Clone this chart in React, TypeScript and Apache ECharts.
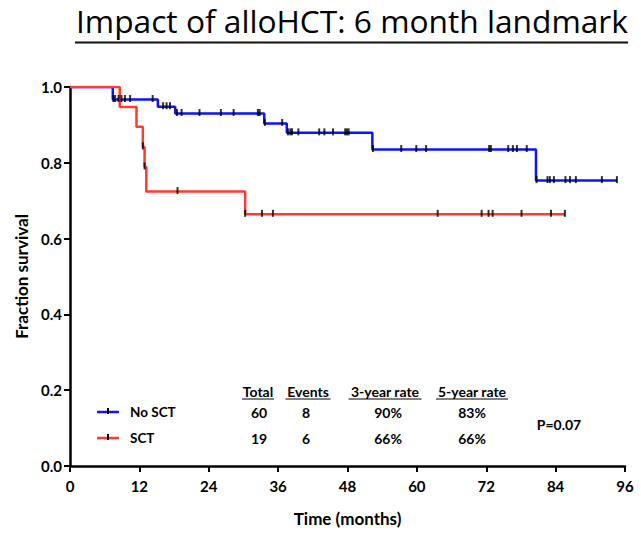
import React, { useEffect, useRef } from "react";
import * as echarts from "echarts";

const titleText = "Impact of alloHCT: 6 month landmark";
const xTicks = [0, 12, 24, 36, 48, 60, 72, 84, 96];
const yTicks = [0, 0.2, 0.4, 0.6, 0.8, 1.0];

// Kaplan-Meier steps: [time in months, survival after that time]
const noSctSteps: [number, number][] = [
  [0, 1.0], [7.4, 0.967], [15.2, 0.948], [18.2, 0.93], [33.6, 0.904],
  [37.5, 0.879], [52.3, 0.835], [80.6, 0.753], [94.6, 0.753],
];
const sctSteps: [number, number][] = [
  [0, 1.0], [8.6, 0.947], [11.5, 0.895], [12.6, 0.842], [12.9, 0.789],
  [13.2, 0.724], [30.3, 0.664], [85.6, 0.664],
];
const noSctCensored = [
  7.5, 7.8, 8.4, 8.9, 9.5, 10.4, 14.3, 16.1, 16.7, 17.3, 18.5, 19.3, 22.4, 26.1,
  28.3, 32.5, 32.8, 33.7, 36.7, 37.7, 38.1, 38.4, 39.5, 43.1, 44.0, 45.5, 47.6,
  47.9, 48.2, 52.4, 57.3, 59.9, 61.6, 72.5, 72.8, 75.8, 76.6, 77.3, 79.0, 80.7,
  82.6, 83.0, 83.7, 85.7, 86.5, 87.5, 92.0, 94.6,
];
const sctCensored = [12.6, 12.9, 18.6, 30.3, 33.2, 35.1, 63.6, 71.2, 72.4, 73.1, 78.1, 83.2, 85.6];

const groupNames = ["No SCT", "SCT"];
const groupColors = ["#0a14ff", "#ff3a30"];
const tableHeaders = ["Total", "Events", "3-year rate", "5-year rate"];
const totals = ["60", "19"];
const events = ["8", "6"];
const rate3y = ["90%", "66%"];
const rate5y = ["83%", "66%"];
const pValue = "P=0.07";

function survivalAt(steps: [number, number][], t: number): number {
  let v = steps[0][1];
  for (const [x, y] of steps) {
    if (x <= t) v = y;
  }
  return v;
}

const FONT = "Lato";

export default function App() {
  const ref = useRef<HTMLDivElement>(null);
  useEffect(() => {
    if (!ref.current) return;
    const chart = echarts.init(ref.current, undefined, { renderer: "svg" });

    const headerCenters = [258, 308, 385, 472];
    const headerWidths = [32, 45, 73, 72];
    const row1Y = 412;
    const row2Y = 438;
    const colCenters = [259, 306, 388, 472];

    const graphics: any[] = [
      {
        type: "text",
        left: 76,
        top: 4,
        style: { text: titleText, fontFamily: "Open Sans", fontSize: 31.7, fill: "#000" },
      },
      { type: "line", shape: { x1: 75, y1: 42.5, x2: 628, y2: 42.5 }, style: { stroke: "#111", lineWidth: 2 } },
    ];
    tableHeaders.forEach((h, i) => {
      graphics.push({
        type: "text",
        x: headerCenters[i],
        y: 391,
        style: { text: h, fontFamily: FONT, fontWeight: "bold", fontSize: 14, fill: "#000", align: "center", verticalAlign: "middle" },
      });
      graphics.push({
        type: "line",
        shape: { x1: headerCenters[i] - headerWidths[i] / 2, y1: 399, x2: headerCenters[i] + headerWidths[i] / 2, y2: 399 },
        style: { stroke: "#000", lineWidth: 1 },
      });
    });
    const rows = [row1Y, row2Y];
    rows.forEach((ry, r) => {
      graphics.push({ type: "line", shape: { x1: 97, y1: ry, x2: 119, y2: ry }, style: { stroke: groupColors[r], lineWidth: 2.5 } });
      graphics.push({ type: "line", shape: { x1: 108, y1: ry - 4, x2: 108, y2: ry + 2 }, style: { stroke: "#000", lineWidth: 2 } });
      graphics.push({
        type: "text", x: 130, y: ry,
        style: { text: groupNames[r], fontFamily: FONT, fontWeight: "bold", fontSize: 13.5, fill: "#000", verticalAlign: "middle" },
      });
      const vals = [totals[r], events[r], rate3y[r], rate5y[r]];
      vals.forEach((v, c) => {
        graphics.push({
          type: "text", x: colCenters[c], y: ry,
          style: { text: v, fontFamily: FONT, fontWeight: "bold", fontSize: 14, fill: "#000", align: "center", verticalAlign: "middle" },
        });
      });
    });
    graphics.push({
      type: "text", x: 559, y: 424,
      style: { text: pValue, fontFamily: FONT, fontWeight: "bold", fontSize: 14, fill: "#000", align: "center", verticalAlign: "middle" },
    });

    const censorSeries = (times: number[], steps: [number, number][], name: string) => ({
      type: "scatter",
      name: name + " censored",
      data: times.map((t) => [t, survivalAt(steps, t)]),
      symbol: "rect",
      symbolSize: [2, 7],
      symbolOffset: [0, -1],
      itemStyle: { color: "#000" },
      z: 5,
      silent: true,
    });

    chart.setOption({
      animation: false,
      backgroundColor: "#fff",
      grid: { left: 70, right: 16, top: 87, bottom: 68, containLabel: false },
      xAxis: {
        type: "value",
        min: xTicks[0],
        max: xTicks[xTicks.length - 1],
        interval: 12,
        name: "Time (months)",
        nameLocation: "middle",
        nameGap: 44,
        nameTextStyle: { fontFamily: FONT, fontWeight: "bold", fontSize: 17, color: "#000" },
        axisLine: { lineStyle: { color: "#000", width: 2.5 } },
        axisTick: { length: 6, lineStyle: { color: "#000", width: 2 } },
        axisLabel: { fontFamily: FONT, fontWeight: "bold", fontSize: 15, color: "#000", margin: 12 },
        splitLine: { show: false },
      },
      yAxis: {
        type: "value",
        min: yTicks[0],
        max: yTicks[yTicks.length - 1],
        interval: 0.2,
        name: "Fraction survival",
        nameLocation: "middle",
        nameGap: 38,
        nameRotate: 90,
        nameTextStyle: { fontFamily: FONT, fontWeight: "bold", fontSize: 17, color: "#000" },
        axisLine: { show: true, lineStyle: { color: "#000", width: 2.5 } },
        axisTick: { show: true, length: 6, lineStyle: { color: "#000", width: 2 } },
        axisLabel: {
          fontFamily: FONT, fontWeight: "bold", fontSize: 15, color: "#000", margin: 8,
          formatter: (v: number) => v.toFixed(1),
        },
        splitLine: { show: false },
      },
      graphic: graphics,
      series: [
        {
          type: "line",
          name: groupNames[0],
          data: noSctSteps,
          step: "end",
          symbol: "none",
          lineStyle: { color: groupColors[0], width: 2.5 },
          z: 2,
        },
        {
          type: "line",
          name: groupNames[1],
          data: sctSteps,
          step: "end",
          symbol: "none",
          lineStyle: { color: groupColors[1], width: 2.5 },
          z: 3,
        },
        censorSeries(noSctCensored, noSctSteps, groupNames[0]),
        censorSeries(sctCensored, sctSteps, groupNames[1]),
      ],
    });
    return () => chart.dispose();
  }, []);
  return <div ref={ref} style={{ width: 641, height: 534, position: "absolute", left: 0, top: 0 }} />;
}
